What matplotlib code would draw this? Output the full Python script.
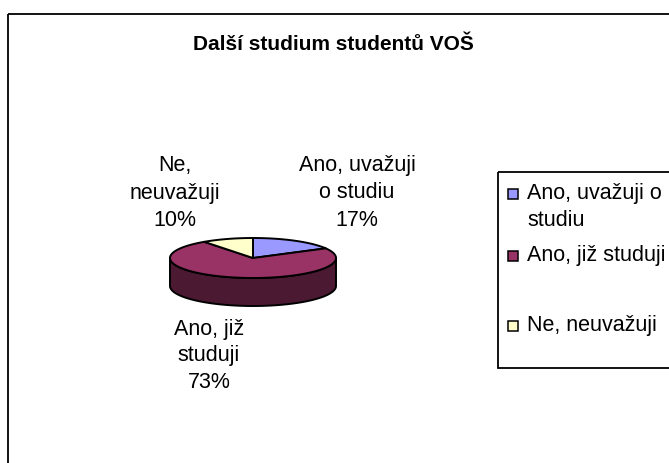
import numpy as np
import matplotlib
matplotlib.use("Agg")
import matplotlib.pyplot as plt
from matplotlib.patches import Polygon, Rectangle

plt.rcParams['font.family'] = ['Liberation Sans', 'DejaVu Sans']

# ---------------- data ----------------
title = "Další studium studentů VOŠ"
categories = ["Ano, uvažuji o studiu", "Ano, již studuji", "Ne, neuvažuji"]
legend_labels = ["Ano, uvažuji o\nstudiu", "Ano, již studuji", "Ne, neuvažuji"]
slice_labels = ["Ano, uvažuji\no studiu", "Ano, již\nstuduji", "Ne,\nneuvažuji"]
values = [17, 73, 10]

# ---------------- style / layout ----------------
colors = ["#9999FF", "#993366", "#FFFFCC"]
side_colors = ["#4C4C80", "#4C1933", "#808066"]
label_pos = [(357, 193), (209, 356), (175, 193)]
legend_first_line_y = [194, 256, 326]
FS = 15.5
LINE_PX = 27

W, H = 669, 463
fig = plt.figure(figsize=(W / 100, H / 100), dpi=100)
ax = fig.add_axes([0, 0, 1, 1])
ax.set_xlim(0, W)
ax.set_ylim(H, 0)
ax.axis('off')

# chart area border (runs off right/bottom)
ax.add_patch(Rectangle((8, 13.5), W + 20, H + 20, fill=False, lw=1.3, ec='black'))

ax.text(333, 45, title, ha='center', va='center', fontsize=15, fontweight='bold')

# ---------------- 3D pie ----------------
cx, cy, a, b, depth = 253, 258, 83, 20, 28
fr = np.array(values, dtype=float) / sum(values)
starts = 360 * np.concatenate([[0], np.cumsum(fr)[:-1]])
ends = starts + 360 * fr


def pts(t, dy=0.0):
    r = np.radians(t)
    return np.column_stack([cx + a * np.sin(r), cy - b * np.cos(r) + dy])


# side faces (front half only: 90..270 deg clockwise from top)
for s, e, sc in zip(starts, ends, side_colors):
    lo, hi = max(s, 90), min(e, 270)
    if lo < hi:
        t = np.linspace(lo, hi, 200)
        poly = np.vstack([pts(t), pts(t[::-1], depth)])
        ax.add_patch(Polygon(poly, closed=True, fc=sc, ec='black', lw=1.4, joinstyle='round'))

# top faces
for s, e, c in zip(starts, ends, colors):
    t = np.linspace(s, e, 300)
    poly = np.vstack([[cx, cy], pts(t)])
    ax.add_patch(Polygon(poly, closed=True, fc=c, ec='black', lw=1.4, joinstyle='round'))

# data labels (each line placed separately for exact spacing)
for lab, v, (x, y) in zip(slice_labels, values, label_pos):
    pct = int(round(100 * v / sum(values)))
    lines = (lab + f"\n{pct}%").split("\n")
    n = len(lines)
    for k, ln in enumerate(lines):
        ax.text(x, y + (k - (n - 1) / 2) * LINE_PX, ln, ha='center', va='center', fontsize=FS)

# ---------------- legend ----------------
ax.add_patch(Rectangle((498, 172), 200, 196, fill=False, ec='black', lw=1.3))
for lab, c, y0 in zip(legend_labels, colors, legend_first_line_y):
    ax.add_patch(Rectangle((508, y0 - 5), 10, 10, fc=c, ec='black', lw=1.1))
    for k, ln in enumerate(lab.split("\n")):
        ax.text(527, y0 + k * 26, ln, ha='left', va='center', fontsize=FS)

fig.savefig("out.png", dpi=100)
